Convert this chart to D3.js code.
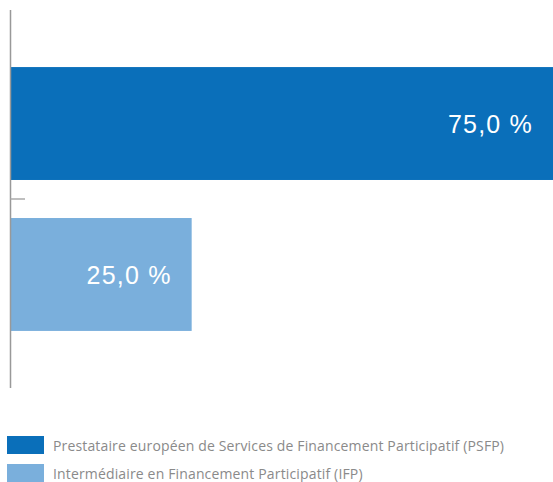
<!DOCTYPE html>
<html>
<head>
<meta charset="utf-8">
<script src="https://cdn.jsdelivr.net/npm/d3@7"></script>
<style>
  body { margin: 0; background: #fff; }
  svg { display: block; }
</style>
</head>
<body>
<script>
// Data
var categories = ["PSFP", "IFP"];
var values = [75.0, 25.0];
var legendLabels = [
  "Prestataire européen de Services de Financement Participatif (PSFP)",
  "Intermédiaire en Financement Participatif (IFP)"
];
var colors = ["#0a6fba", "#7aafdc"];

var width = 553, height = 482;

var svg = d3.select("body").append("svg")
    .attr("width", width)
    .attr("height", height);

var x = d3.scaleLinear().domain([0, 75]).range([11, 553]);
var y = d3.scaleBand().domain(categories).range([10, 388])
    .paddingInner(0.252).paddingOuter(0.378);

// bars
svg.selectAll(".bar")
    .data(values)
    .enter()
    .append("rect")
      .attr("class", "bar")
      .attr("x", x(0))
      .attr("y", function(d, i) { return y(categories[i]); })
      .attr("width", function(d) { return x(d) - x(0); })
      .attr("height", y.bandwidth())
      .style("fill", function(d, i) { return colors[i]; });

// value labels
var fmt = function(d) { return d3.format(".1f")(d).replace(".", ",") + " %"; };
svg.selectAll(".val")
    .data(values)
    .enter()
    .append("text")
      .attr("x", function(d) { return x(d) - 20; })
      .attr("y", function(d, i) { return y(categories[i]) + y.bandwidth() / 2 + 9.5; })
      .attr("text-anchor", "end")
      .style("font-family", "'Liberation Sans', Arial, sans-serif")
      .style("font-size", "25px")
      .style("letter-spacing", "1.2px")
      .style("fill", "#fff")
      .text(fmt);

// axis line and separator tick
var axisX = x(0) - 0.5;
svg.append("line")
    .attr("x1", axisX).attr("x2", axisX)
    .attr("y1", 10).attr("y2", 388)
    .style("stroke", "#999").style("stroke-width", 1.5);

var tickY = (y(categories[0]) + y.bandwidth() + y(categories[1])) / 2;
svg.append("line")
    .attr("x1", axisX).attr("x2", 25)
    .attr("y1", tickY).attr("y2", tickY)
    .style("stroke", "#aaa").style("stroke-width", 1.5);

// legend
var legend = svg.selectAll(".legend")
    .data(legendLabels)
    .enter()
    .append("g")
      .attr("class", "legend")
      .attr("transform", function(d, i) { return "translate(7," + (436 + i * 28) + ")"; });

legend.append("rect")
    .attr("width", 37)
    .attr("height", 18)
    .style("fill", function(d, i) { return colors[i]; });

legend.append("text")
    .attr("x", 46)
    .attr("y", 14.5)
    .style("font-family", "'Open Sans', sans-serif")
    .style("font-size", "14px")
    .style("letter-spacing", "0.15px")
    .style("fill", "#8a8a8a")
    .text(function(d) { return d; });
</script>
</body>
</html>
